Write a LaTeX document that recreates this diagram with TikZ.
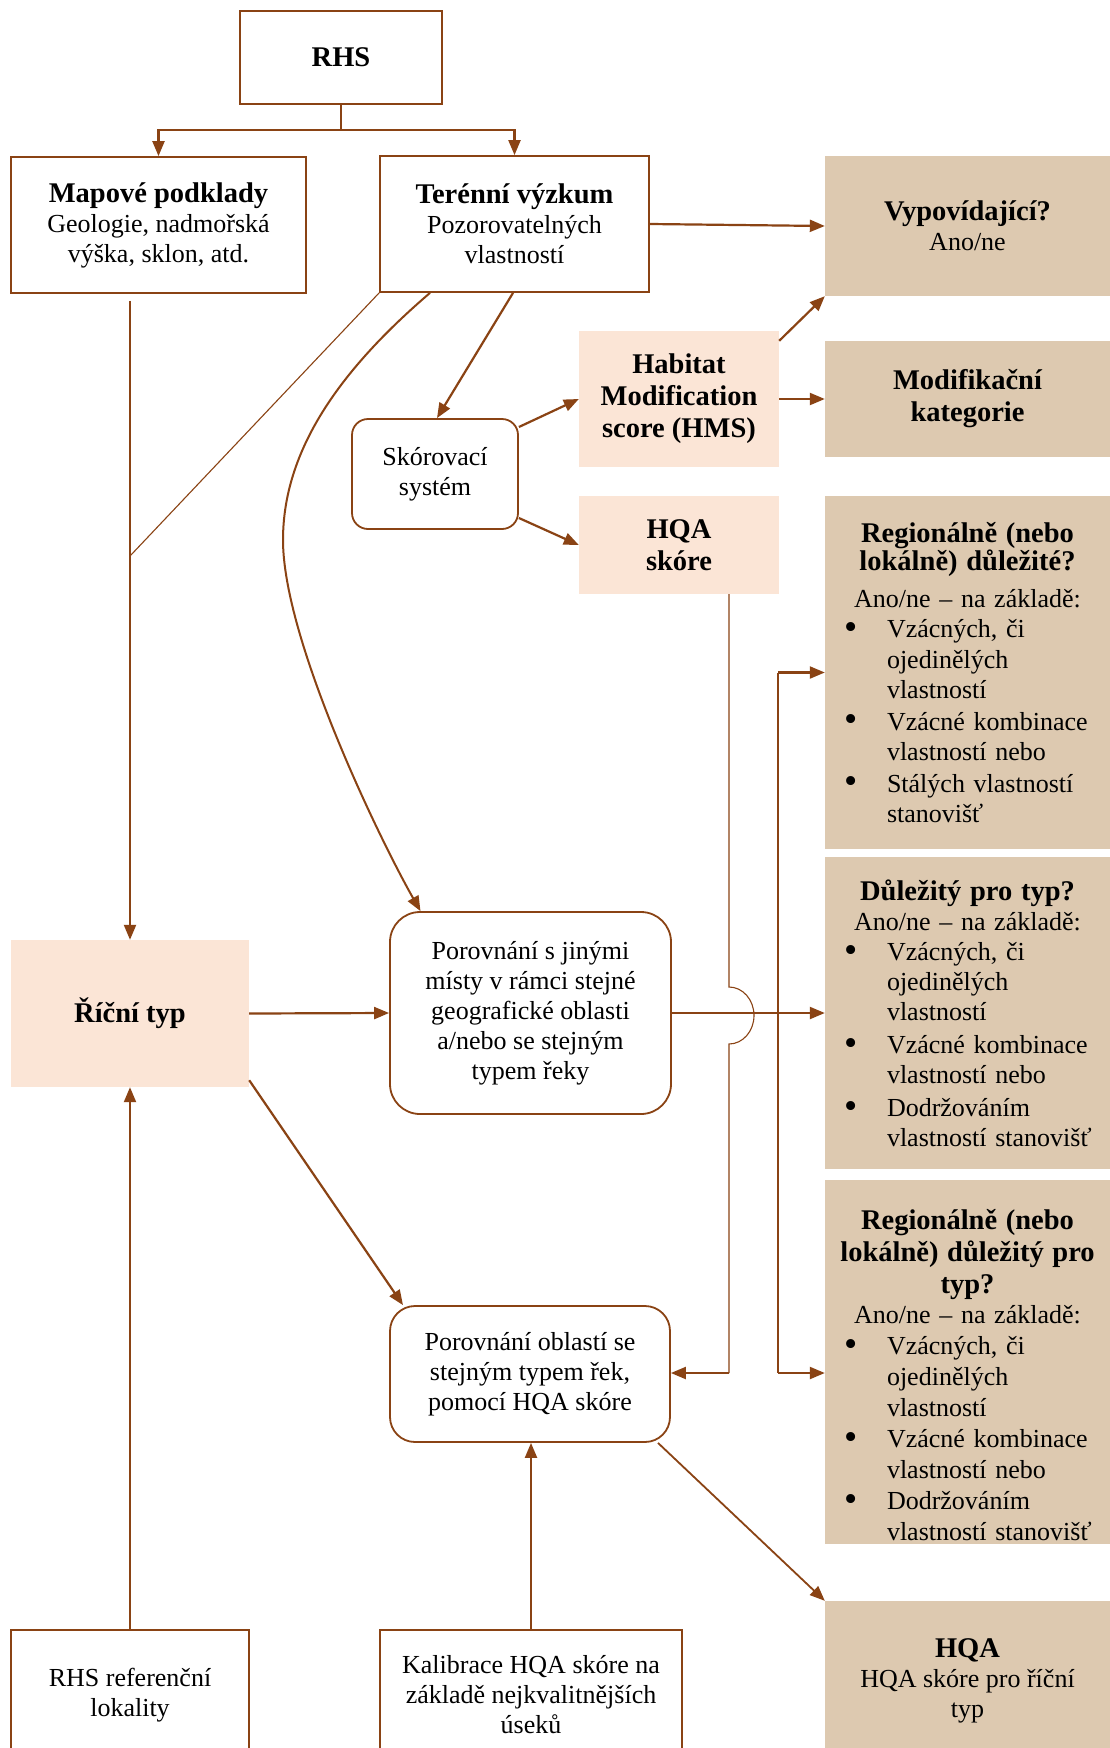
\documentclass[tikz,border=0pt]{standalone}
\usepackage{fontspec}
\usepackage{graphicx}
\setmainfont{Liberation Serif}
\usetikzlibrary{arrows.meta}
\definecolor{brn}{HTML}{8A4314}
\definecolor{peachfill}{HTML}{FBE5D6}
\definecolor{tanfill}{HTML}{DDC9B0}
\setlength{\parindent}{0pt}
\newcommand\bfs{\fontsize{28.5}{32}\selectfont\bfseries}
\newcommand\rgs{\fontsize{26}{30}\selectfont}
\newcommand\mybul{\raisebox{-1.8pt}{\scalebox{1.45}{\textbullet}}}
\newcommand\myitem[1]{\par\noindent\hangindent=52pt\hangafter=1\makebox[52pt][l]{\hspace{9pt}\mybul}#1\par}
\begin{document}
\begin{tikzpicture}[x=1pt,y=-1pt,
  box/.style={draw=brn, line width=1.8pt, fill=white, align=center, font=\rgs, inner sep=4pt},
  rbox/.style={box, rounded corners=#1},
  pbox/.style={fill=peachfill, align=center, font=\bfs},
  tbox/.style={fill=tanfill, align=center, font=\rgs},
  lbox/.style={fill=tanfill, text width=265pt, inner xsep=10pt, inner ysep=0pt, font=\rgs, minimum width=285pt},
  arr/.style={draw=brn, line width=2.2pt, -{Triangle[length=15pt,width=12pt]}},
  thinln/.style={draw=brn, line width=1.1pt}]
\useasboundingbox (0,0) rectangle (1110,1748);
\clip (0,0) rectangle (1110,1748);
\fill[white] (0,0) rectangle (1110,1748);

% nodes
\node[box, minimum width=202pt, minimum height=93pt] (rhs) at (341,57.5) {\bfs RHS};
\node[box, minimum width=295pt, minimum height=136pt] (map) at (158.5,225) {{\bfs Mapové podklady}\\Geologie, nadmořská\\výška, sklon, atd.};
\node[box, minimum width=269pt, minimum height=136pt] (ter) at (514.5,224) {{\bfs Terénní výzkum}\\Pozorovatelných\\vlastností};
\node[tbox, minimum width=285pt, minimum height=140pt] (vyp) at (967.5,226) {{\bfs Vypovídající?}\\Ano/ne};
\node[pbox, minimum width=200pt, minimum height=136pt] (hab) at (679,399) {\fontsize{28.5}{33}\selectfont\bfseries Habitat\\Modification\\score (HMS)};
\node[tbox, font=\bfs, minimum width=285pt, minimum height=116pt] (mod) at (967.5,399) {\fontsize{28.5}{34}\selectfont\bfseries Modifikační\\kategorie};
\node[rbox=16pt, minimum width=166pt, minimum height=110pt] (skor) at (435,474) {Skórovací\\systém};
\node[pbox, minimum width=200pt, minimum height=98pt] (hqas) at (679,545) {HQA\\skóre};

\node[lbox, minimum height=353pt] (reg1) at (967.5,672.5) {%
{\centering\fontsize{28.5}{28}\selectfont\bfseries Regionálně (nebo\\lokálně) důležité?\par}
{\centering\fontsize{26}{37}\selectfont Ano/ne – na základě:\par}
{\fontsize{26}{30.5}\selectfont\raggedright
\myitem{Vzácných, či\newline ojedinělých\newline vlastností}\vspace{1pt}
\myitem{Vzácné kombinace\newline vlastností nebo}\vspace{1pt}
\myitem{Stálých vlastností\newline stanovišť}}};

\node[lbox, minimum height=312pt] (dul) at (967.5,1013) {%
{\centering\bfs Důležitý pro typ?\par}
{\centering\fontsize{26}{30}\selectfont Ano/ne – na základě:\par}
{\fontsize{26}{30}\selectfont\raggedright
\myitem{Vzácných, či\newline ojedinělých\newline vlastností}\vspace{3pt}
\myitem{Vzácné kombinace\newline vlastností nebo}\vspace{3pt}
\myitem{Dodržováním\newline vlastností stanovišť}}};

\node[lbox, minimum height=364pt] (reg2) at (967.5,1362) {%
\par\vspace*{14.5pt}
{\centering\fontsize{28.5}{32}\selectfont\bfseries Regionálně (nebo\\lokálně) důležitý pro\\typ?\par}
{\centering\fontsize{26}{30}\selectfont Ano/ne – na základě:\par}
{\fontsize{26}{31}\selectfont\raggedright
\myitem{Vzácných, či\newline ojedinělých\newline vlastností}
\myitem{Vzácné kombinace\newline vlastností nebo}
\myitem{Dodržováním\newline vlastností stanovišť}}\par\vspace*{-14.5pt}};

\node[tbox, minimum width=285pt, minimum height=159pt] (hqa) at (967.5,1680.5) {{\bfs HQA}\\HQA skóre pro říční\\typ};
\node[pbox, minimum width=238pt, minimum height=147pt] (ric) at (130,1013.5) {Říční typ};
\node[rbox=30pt, minimum width=281pt, minimum height=202pt] (por1) at (530.5,1013) {Porovnání s jinými\\místy v rámci stejné\\geografické oblasti\\a/nebo se stejným\\typem řeky};
\node[rbox=25pt, minimum width=280pt, minimum height=136pt] (por2) at (530,1374) {Porovnání oblastí se\\stejným typem řek,\\pomocí HQA skóre};
\node[box, minimum width=238pt, minimum height=130pt] (ref) at (130,1695) {RHS referenční\\lokality};
\node[box, minimum width=302pt, minimum height=130pt] (kal) at (531,1695) {Kalibrace HQA skóre na\\základě nejkvalitnějších\\úseků};

% connectors
\draw[arr] (rhs.south) -- ++(0,25) -| (map.north);
\draw[arr] (rhs.south) -- ++(0,25) -| (ter.north);
\draw[arr] (ter.east) -- (vyp.west);
\draw[arr] ([xshift=-1.5pt]ter.south) -- ([xshift=2pt]skor.north);
\draw[arr] ([yshift=47pt]skor.east) -- (hab.west);
\draw[arr] ([yshift=-44pt]skor.east) -- (hqas.west);
\draw[arr] (hab.east) -- (mod.west);
\draw[arr] ([yshift=-10pt]hab.north east) -- (vyp.south west);
\draw[arr] ([xshift=-28.5pt,yshift=-7pt]map.south) -- (ric.north);
\coordinate (mj) at (130,556);
\draw[thinln] (ter.south west) -- (mj);
\draw[arr, line width=2pt] ([xshift=-84.5pt]ter.south) .. controls (340,370) and (283,450) .. (283,540) .. controls (283,640) and (380,840) .. ([xshift=-110pt]por1.north);
\draw[arr] (ric.east) -- (por1.west);
\draw[arr] (por1.east) -- (dul.west);
\coordinate (b1) at (778,672.5);
\coordinate (b2) at (778,1373);
\draw[thinln] (b1) -- (b2);
\draw[arr] (b1) -- (reg1.west);
\draw[arr] (b2) -- (reg2.west |- b2);
\coordinate (h1) at (729,987);
\coordinate (h2) at (729,1373);
\draw[thinln] ([xshift=50pt]hqas.south) -- (h1) arc[start angle=90, end angle=-90, x radius=25pt, y radius=28.5pt] -- (h2);
\draw[arr] (h2) -- (por2.east |- h2);
\draw[arr] ([yshift=7pt]ric.south east) -- ([xshift=-127pt]por2.north);
\draw[arr, line width=1.8pt] ([xshift=128pt]por2.south) -- (hqa.north west);
\draw[arr] (kal.north) -- (kal.north |- por2.south);
\draw[arr] (ref.north) -- (ric.south);
\end{tikzpicture}
\end{document}
